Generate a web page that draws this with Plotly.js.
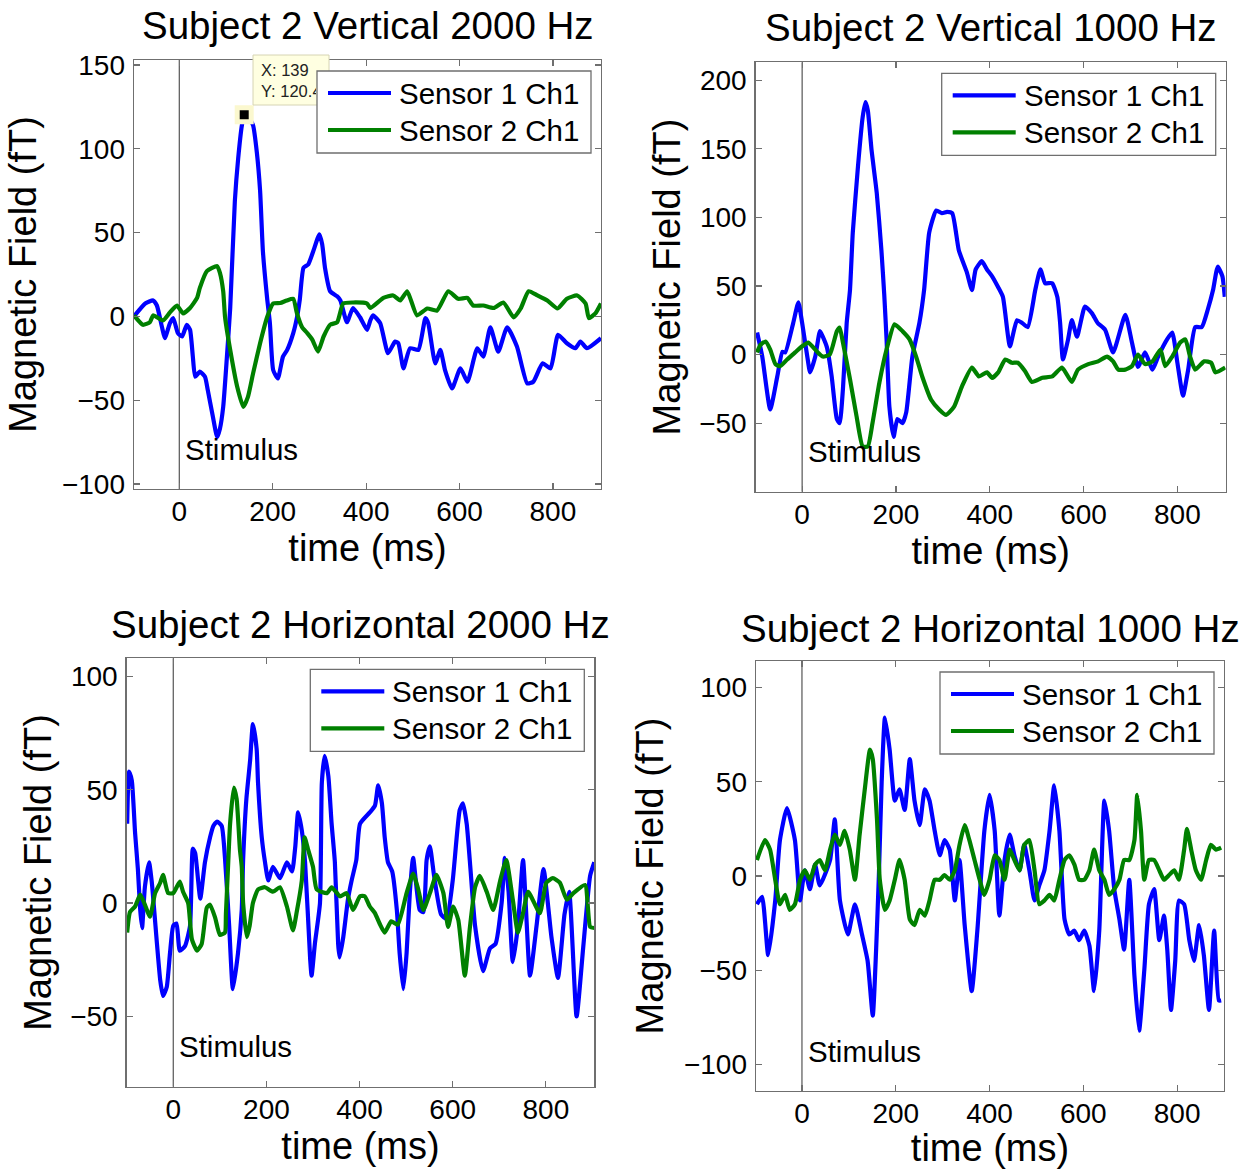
<!DOCTYPE html>
<html>
<head>
<meta charset="utf-8">
<script src="https://cdn.plot.ly/plotly-3.0.1.min.js"></script>
<style>
  html, body { margin: 0; padding: 0; background: #fff; }
  #chart { width: 1250px; height: 1169px; }
</style>
</head>
<body>
<div id="chart"></div>
<script>
// ---------------- data: [time (ms), field (fT)] ----------------
const seriesNames = ['Sensor 1 Ch1', 'Sensor 2 Ch1'];
const panelTitles = [
  'Subject 2 Vertical 2000 Hz',
  'Subject 2 Vertical 1000 Hz',
  'Subject 2 Horizontal 2000 Hz',
  'Subject 2 Horizontal 1000 Hz'
];
const xTickVals = [0, 200, 400, 600, 800];
const stimulusMs = 0;
const stimulusLabel = 'Stimulus';
const datatipTime = 139;
const datatipField = 120.4;

const vert2000Sensor1 = [[-97,0],[-73,7.7],[-56,9.5],[-48,6.5],[-37,-6.5],[-31,-13],[-20,-4],[-13,-1],[-3,-10],[6,-12],
  [16,-5],[23,-8],[29,-24],[34,-36],[44,-33],[55,-36],[61,-44],[72,-60],[81,-72],[87,-67],[94,-54],[102,-24],[109,5],
  [119,69],[126,94],[134,114],[139,120.4],[148,119],[158,114],[166,98],[173,75],[179,39],[188,11],[194,-4],[201,-32],
  [211,-37],[222,-24],[231,-20],[244,-10],[252,-0.6],[258,10],[266,29],[276,31],[287,39],[300,49],[306,43],[312,29],
  [323,15],[338,12],[345,9.5],[359,-3.5],[372,5],[387,-0.5],[402,-8],[409,-2.4],[415,0.6],[430,-4],[447,-22],[462,-15],
  [469,-16],[480,-31],[494,-19],[512,-20],[527,-1],[533,-4],[548,-28],[559,-20],[569,-32],[584,-43],[602,-31],[617,-39],
  [638,-19],[651,-24],[666,-6.5],[683,-21],[702,-6.5],[723,-18],[745,-40],[758,-39],[778,-28],[795,-31],[811,-11],
  [830,-16],[848,-19],[859,-15],[873,-19],[903,-13]];
const vert2000Sensor2 = [[-97,0.6],[-78,-5],[-63,-3.5],[-56,0.6],[-35,-2.4],[-20,2.4],[-5,6.5],[8,1.8],[23,5],[38,11],
  [44,17],[59,27],[81,30],[87,26],[94,15],[98,-0.5],[109,-20],[124,-42],[137,-54],[147,-48],[158,-34],[173,-16],
  [188,-0.5],[201,7.7],[216,8],[230,9.5],[244,10.5],[252,1.8],[263,-6.5],[274,-10],[285,-14],[297,-21],[309,-12],
  [323,-5],[338,-3.5],[351,7.7],[372,8.3],[402,7.7],[409,5],[437,11],[458,12.5],[473,9.5],[488,15],[509,0.6],[531,4.7],
  [552,3.5],[576,15],[597,10.5],[617,11],[629,6.5],[651,6.5],[673,5],[694,8.3],[716,-0.6],[731,4.7],[748,15],[767,12.5],
  [788,9.5],[810,4.7],[830,10.5],[852,12.5],[870,7.7],[877,-1],[891,1.8],[903,7.7]];

const vert1000Sensor1 = [[-96,16],[-85,-1.5],[-68,-40],[-53,-16],[-42,2],[-36,1.5],[-19,23],[-8,38],[0,23],[11,-1.5],
  [17,-13],[28,-1.5],[38,17],[44,13],[53,5],[63,-16],[74,-47],[80,-50],[87,-25],[95,23],[102,47],[108,89],[119,137],
  [129,173],[135,184],[140,178],[148,149],[159,118],[169,76],[175,44],[180,11],[186,-38],[195,-60],[203,-47],[214,-50],
  [222,-42],[235,-1.5],[250,23],[260,47],[271,89],[286,105],[298,103],[309,104],[320,103],[334,76],[351,60],[362,47],
  [370,62],[383,68],[394,62],[405,57],[418,49],[428,42],[443,6],[458,25],[469,23],[481,20],[497,47],[508,62],[518,52],
  [533,52],[544,42],[550,23],[556,-3.6],[567,11],[575,25],[586,13],[603,35],[618,30],[630,23],[646,18],[663,1.5],
  [689,29],[703,9],[716,-9],[731,1.5],[747,-11],[759,-1.5],[778,11],[789,16],[800,-6],[812,-30],[823,-11],[838,20],
  [852,20],[865,33],[876,47],[886,64],[896,57],[901,42]];
const vert1000Sensor2 = [[-96,1.5],[-89,7],[-78,9.5],[-68,3.6],[-57,-7],[-47,-8.5],[-32,-3.6],[-15,1.5],[0,6],[13,8.7],
  [32,2],[44,-1.5],[59,0],[74,17],[80,19.6],[87,8.7],[102,-18],[116,-45],[129,-67],[140,-67],[150,-50],[165,-20],
  [180,3.6],[197,22],[214,17],[229,11],[243,-1.5],[256,-16],[275,-33],[292,-40],[307,-44],[324,-38],[341,-23],[362,-9.5],
  [377,-16],[394,-13],[405,-17],[418,-13],[433,-3.6],[447,-6],[460,-6],[475,-12],[490,-20],[512,-17],[533,-16],
  [554,-9.5],[575,-20],[588,-11],[610,-7],[631,-5],[650,-1.5],[663,-5],[674,-11],[689,-11],[703,-8.5],[716,0],[731,-7],
  [747,-5],[764,3.6],[774,-8.5],[789,-1.5],[806,8.7],[817,11],[827,-1.5],[838,-11],[857,-5],[872,-6],[881,-13],[902,-9.5]];

const horiz2000Sensor1 = [[-99,35],[-95,58],[-89,54],[-82,31],[-76,15],[-71,-3],[-67,-11],[-61,7],[-52,18],[-46,9],
  [-35,-18],[-28,-34],[-22,-41],[-14,-37],[-7,-22],[0,-10],[7,-9],[14,-21],[25,-19],[36,-10],[42,24],[47,22],[51,15],
  [58,2],[68,18],[79,29],[86,34],[94,36],[104,34],[111,20],[120,-10],[128,-38],[139,-22],[147,-3],[150,19],[157,46],
  [165,63],[171,79],[179,68],[182,53],[190,29],[197,18],[204,10],[214,16],[229,11],[244,18],[255,14],[262,25],[268,40],
  [276,32],[283,18],[294,-25],[297,-32],[304,-18],[315,0],[319,53],[325,65],[333,56],[340,35],[347,18],[354,-18],
  [357,-24],[365,-15],[375,1.5],[383,10],[393,19],[401,35],[422,40],[433,43],[440,52],[448,44],[454,29],[461,18],
  [470,14],[480,-3],[486,-22],[494,-38],[501,-22],[508,5],[515,20],[529,-3],[537,-4],[544,19],[551,25],[560,12],
  [575,-5],[587,-7],[600,10],[615,41],[622,44],[630,35],[637,18],[648,-10],[665,-30],[680,-20],[692,-18],[705,0],
  [712,20],[720,5],[729,-26],[740,-10],[751,19],[766,-32],[780,-10],[795,15],[812,-15],[826,-33],[840,-5],[850,5],
  [866,-50],[880,-20],[895,12],[904,18]];
const horiz2000Sensor2 = [[-99,-13],[-93,-4],[-82,-1.5],[-71,3.7],[-61,-0.7],[-50,-6],[-39,4.4],[-28,9],[-22,12.5],
  [-11,4.4],[0,4.4],[14,9.5],[21,5],[32,0],[40,-16],[51,-21],[61,-18],[72,-2],[79,-0.7],[90,-6.5],[100,-14],[111,-13],
  [113,-5],[118,18],[122,35],[130,51],[136,46],[143,24],[147,16],[150,0],[158,-15],[164,-10],[171,0],[182,6],[197,7],
  [214,5],[229,7],[244,-1.5],[257,-12],[265,-4],[276,10],[282,29],[289,24],[300,16],[308,6],[330,4.4],[340,7],[358,3],
  [372,4.4],[386,-3],[401,3],[411,3],[422,-1.5],[433,-4.4],[443,-9],[454,-13],[468,-8],[482,-9.5],[501,4.4],[515,13],
  [526,6],[537,-3],[551,4.4],[565,12.5],[580,4.4],[590,-10.5],[601,-1.5],[612,-7.5],[626,-32],[637,-10.5],[648,7],
  [658,12],[673,5],[687,-3],[702,10],[715,19],[729,1.5],[740,-13],[751,-4.4],[762,5],[787,-4.4],[801,9],[815,11],
  [830,9],[845,1.5],[859,4.4],[884,8],[895,-10.5],[904,-11]];

const horiz1000Sensor1 = [[-96,-15],[-85,-11],[-72,-42],[-57,-13],[-47,19],[-32,36],[-15,19],[-4,-13],[6,3],[17,-7],
  [28,6],[38,-5],[60,8.5],[70,30],[81,-13],[98,-31],[113,-15],[128,-31],[140,-45],[151,-74],[158,-40],[164,0],[170,50],
  [177,84],[187,67],[198,40],[208,46],[219,35],[230,62],[240,40],[251,27],[262,46],[272,40],[283,24],[294,11],[304,19],
  [315,14],[326,-13],[336,8.5],[347,-26],[362,-61],[374,-29],[389,24],[400,43],[411,24],[421,-21],[432,8.5],[443,22],
  [453,11],[464,3],[474,16.5],[485,3],[496,-13],[506,-5],[517,3],[528,24],[538,48],[549,24],[560,-23],[570,-31],
  [581,-29],[591,-34],[602,-29],[613,-37],[623,-61],[634,-29],[645,40],[655,24],[666,-7],[677,-23],[687,-39],[698,-2],
  [709,-53],[719,-82],[730,-50],[740,-15],[751,-7],[762,-34],[772,-21],[779,-39],[787,-71],[796,-45],[804,-13],
  [815,-15],[826,-34],[836,-45],[847,-26],[857,-42],[868,-71],[879,-29],[889,-66],[894,-66]];
const horiz1000Sensor2 = [[-96,8.5],[-79,19],[-68,14],[-57,-2],[-47,-15],[-36,-10],[-26,-18],[-15,-15],[-4,-2],[6,3],
  [17,-2],[28,6],[38,8.5],[49,3],[60,14],[70,22],[81,16.5],[91,24],[102,14],[113,-2],[123,22],[134,46],[145,67],
  [151,62],[160,30],[166,-2],[177,-18],[187,-13],[198,-2],[208,8.5],[219,-2],[230,-23],[240,-26],[251,-18],[262,-21],
  [272,-13],[283,-2],[294,-2],[304,0.5],[315,-2],[326,3],[336,16.5],[347,27],[357,19],[368,8.5],[379,-2],[389,-10],
  [400,-2],[411,11],[421,8.5],[432,-2],[443,14],[453,8.5],[464,3],[474,16.5],[485,19],[496,3],[506,-15],[517,-13],
  [528,-10],[538,-13],[549,-2],[560,8.5],[570,11],[581,6],[591,-2],[602,-2],[613,3],[623,14],[634,3],[645,-2],[655,-10],
  [666,-7],[677,-2],[687,8.5],[698,8.5],[709,19],[715,43],[723,24],[730,-2],[740,8.5],[751,8.5],[762,3],[772,-2],
  [783,0.5],[794,3],[804,-2],[815,14],[821,25],[830,14],[840,3],[851,-2],[862,8.5],[872,16.5],[883,14],[894,15]];

// ---------------- layout ----------------
const W = 1250, H = 1169;
const px = x => x / W;          // pixel column -> paper fraction
const py = y => 1 - y / H;      // pixel row    -> paper fraction
const FONT = "'Liberation Sans', Arial, Helvetica, sans-serif";
const COLORS = ['#0000ff', '#008000'];
const FRAME = '#6f6f6f';

const panels = [
  { title: panelTitles[0], series: [vert2000Sensor1, vert2000Sensor2], frame: { l: 134, r: 601, t: 60, b: 489 },
    xRange: [-97, 903], yRange: [-103, 153], yTicks: [-100, -50, 0, 50, 100, 150], titleAt: [368, 25],
    xStandoff: 1, yStandoff: 13 },
  { title: panelTitles[1], series: [vert1000Sensor1, vert1000Sensor2], frame: { l: 755.7, r: 1225.7, t: 62.3, b: 491.7 },
    xRange: [-99, 903], yRange: [-100, 213], yTicks: [-50, 0, 50, 100, 150, 200], titleAt: [991, 28],
    xStandoff: 0, yStandoff: 7 },
  { title: panelTitles[2], series: [horiz2000Sensor1, horiz2000Sensor2], frame: { l: 126.7, r: 594.3, t: 658.3, b: 1086.7 },
    xRange: [-100, 904], yRange: [-81, 108], yTicks: [-50, 0, 50, 100], titleAt: [360, 624],
    xStandoff: 1, yStandoff: 7 },
  { title: panelTitles[3], series: [horiz1000Sensor1, horiz1000Sensor2], frame: { l: 756, r: 1224, t: 661, b: 1091 },
    xRange: [-98, 900], yRange: [-114, 114], yTicks: [-100, -50, 0, 50, 100], titleAt: [990, 628],
    xStandoff: 5, yStandoff: 8 }
];

function axisBase() {
  return {
    showgrid: false, zeroline: false, showline: true, mirror: 'ticks',
    linecolor: FRAME, linewidth: 1.4,
    ticks: 'inside', ticklen: 6, tickwidth: 1.2, tickcolor: FRAME,
    tickfont: { family: FONT, size: 28, color: '#000' },
    fixedrange: true
  };
}

const traces = [];
const shapes = [];
const annotations = [];
const layout = {
  width: W, height: H,
  margin: { l: 0, r: 0, t: 0, b: 0 },
  paper_bgcolor: '#ffffff', plot_bgcolor: '#ffffff',
  showlegend: false,
  font: { family: FONT, color: '#000' },
  shapes, annotations
};

// data tip box on the first panel (drawn before the legend so the legend sits over it)
shapes.push({
  type: 'rect', xref: 'paper', yref: 'paper', layer: 'above',
  x0: px(253), x1: px(329), y0: py(105), y1: py(55),
  fillcolor: '#ffffe1', line: { color: '#d6d4b4', width: 1 }
});
annotations.push({
  xref: 'paper', yref: 'paper', x: px(260), y: py(80), xanchor: 'left', yanchor: 'middle',
  width: 55, align: 'left', showarrow: false, borderpad: 0,
  text: 'X: ' + datatipTime + '<br>Y: ' + datatipField,
  font: { family: FONT, size: 16.5, color: '#222' }
});

// legend geometry (px, measured from the top-right corner of each plot area)
const LEG = { w: 274, h: 82, right: 10, top: 11, rows: [22, 59], lineStart: 11, lineEnd: 74, textStart: 80 };

panels.forEach((p, i) => {
  const n = i === 0 ? '' : String(i + 1);
  const xa = 'x' + n, ya = 'y' + n;

  layout['xaxis' + n] = Object.assign(axisBase(), {
    domain: [px(p.frame.l), px(p.frame.r)], range: p.xRange, tickvals: xTickVals, anchor: ya,
    ticklabelstandoff: -3,
    title: { text: 'time (ms)', font: { family: FONT, size: 38, color: '#000' }, standoff: p.xStandoff }
  });
  layout['yaxis' + n] = Object.assign(axisBase(), {
    domain: [py(p.frame.b), py(p.frame.t)], range: p.yRange, tickvals: p.yTicks, anchor: xa,
    ticklabelstandoff: 2,
    title: { text: 'Magnetic Field (fT)', font: { family: FONT, size: 38, color: '#000' }, standoff: p.yStandoff }
  });

  p.series.forEach((s, k) => {
    traces.push({
      type: 'scatter', mode: 'lines', name: seriesNames[k],
      x: s.map(d => d[0]), y: s.map(d => d[1]),
      xaxis: xa, yaxis: ya,
      line: { color: COLORS[k], width: 4.2, shape: 'spline', smoothing: 0.5 },
      hoverinfo: 'skip'
    });
  });

  // stimulus onset
  shapes.push({
    type: 'line', xref: xa, yref: ya + ' domain', layer: 'below',
    x0: stimulusMs, x1: stimulusMs, y0: 0, y1: 1,
    line: { color: '#555555', width: 1.2 }
  });
  annotations.push({
    xref: xa, yref: ya + ' domain', x: stimulusMs, y: 0.093, xanchor: 'left', yanchor: 'middle',
    xshift: 4, text: stimulusLabel, showarrow: false,
    font: { family: FONT, size: 29.5, color: '#000' }
  });

  // panel title
  annotations.push({
    xref: 'paper', yref: 'paper', x: px(p.titleAt[0]), y: py(p.titleAt[1]),
    xanchor: 'center', yanchor: 'middle', text: p.title, showarrow: false,
    font: { family: FONT, size: 38.5, color: '#000' }
  });

  // legend box
  const left = -(LEG.right + LEG.w);
  shapes.push({
    type: 'rect', xref: xa + ' domain', yref: ya + ' domain', layer: 'above',
    xsizemode: 'pixel', ysizemode: 'pixel', xanchor: 1, yanchor: 1,
    x0: left, x1: -LEG.right, y0: -LEG.top, y1: -(LEG.top + LEG.h),
    fillcolor: '#ffffff', line: { color: FRAME, width: 1.3 }
  });
  seriesNames.forEach((name, k) => {
    const yOff = -(LEG.top + LEG.rows[k]);
    shapes.push({
      type: 'line', xref: xa + ' domain', yref: ya + ' domain', layer: 'above',
      xsizemode: 'pixel', ysizemode: 'pixel', xanchor: 1, yanchor: 1,
      x0: left + LEG.lineStart, x1: left + LEG.lineEnd, y0: yOff, y1: yOff,
      line: { color: COLORS[k], width: 4.2 }
    });
    annotations.push({
      xref: xa + ' domain', yref: ya + ' domain', x: 1, y: 1,
      xshift: left + LEG.textStart, yshift: yOff, xanchor: 'left', yanchor: 'middle',
      text: name, showarrow: false, font: { family: FONT, size: 29.5, color: '#000' }
    });
  });

  // data tip marker on the first panel
  if (i === 0) {
    traces.push({
      type: 'scatter', mode: 'markers', x: [datatipTime], y: [datatipField],
      xaxis: xa, yaxis: ya, cliponaxis: false, hoverinfo: 'skip',
      marker: { symbol: 'square', size: 14, color: '#000000', line: { color: '#fbf8cf', width: 5 } }
    });
  }
});

Plotly.newPlot('chart', traces, layout, { staticPlot: true, displayModeBar: false });
</script>
</body>
</html>
